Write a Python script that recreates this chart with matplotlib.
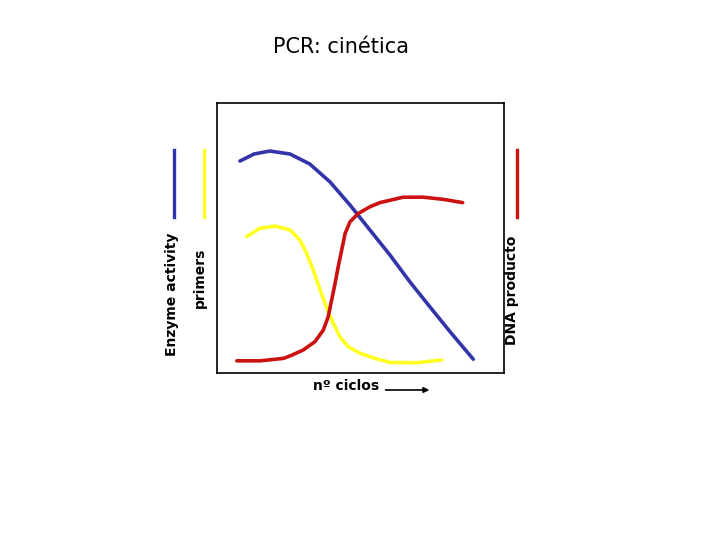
import numpy as np
import matplotlib
matplotlib.use('Agg')
import matplotlib.pyplot as plt

# curves (x: cycles 0-100, y: level 0-100)
enz_x = [8.1, 13.0, 18.5, 25.5, 32.4, 39.4, 46.4, 53.3, 60.3, 67.2, 74.2, 81.2, 89.3]
enz_y = [78.4, 81.0, 82.1, 81.0, 77.3, 70.7, 62.1, 52.9, 43.6, 33.7, 24.4, 15.2, 5.0]

prim_x = [10.4, 15.1, 20.3, 25.5, 29.0, 31.3, 33.6, 36.0, 38.3, 40.6, 42.9, 45.8,
          49.9, 55.1, 60.3, 69.6, 78.3]
prim_y = [50.4, 53.5, 54.3, 52.9, 49.1, 44.2, 38.0, 30.6, 23.9, 18.3, 13.3, 9.6,
          7.2, 5.3, 3.8, 3.7, 4.7]

dna_x = [7.0, 15.1, 23.2, 25.5, 30.1, 34.2, 37.1, 38.8, 40.0, 41.2, 42.3, 43.5,
         44.7, 46.4, 49.3, 53.4, 56.8, 64.9, 72.0, 78.9, 85.6]
dna_y = [4.4, 4.4, 5.3, 6.2, 8.4, 11.5, 15.8, 20.7, 26.9, 33.1, 39.3, 45.4,
         51.6, 55.9, 59.0, 61.5, 63.0, 65.0, 65.0, 64.2, 63.0]

BLUE = '#3333aa'
YELLOW = '#ffff22'
RED = '#cc1111'

fig = plt.figure(figsize=[7.2, 5.4], dpi=100)
ax = fig.add_axes([0.301, 0.3098, 0.399, 0.5])
ax.set_xlim(0, 100)
ax.set_ylim(0, 100)
ax.set_xticks([])
ax.set_yticks([])
for s in ax.spines.values():
    s.set_linewidth(1.2)

lw = 2.6
ax.plot(enz_x, enz_y, color=BLUE, lw=lw, solid_joinstyle='round', solid_capstyle='round')
ax.plot(prim_x, prim_y, color=YELLOW, lw=lw, solid_joinstyle='round', solid_capstyle='round')
ax.plot(dna_x, dna_y, color=RED, lw=lw, solid_joinstyle='round', solid_capstyle='round')

# colour keys outside the box
tr = ax.transAxes
for xk, c in [(-0.1486, BLUE), (-0.044, YELLOW), (1.044, RED)]:
    ax.plot([xk, xk], [0.578, 0.825], color=c, lw=2.4, transform=tr, clip_on=False)

fs = 10
ax.text(-0.155, 0.517, 'Enzyme activity', rotation=90, ha='center', va='top',
        fontsize=fs, fontweight='bold', transform=tr)
ax.text(-0.058, 0.465, 'primers', rotation=90, ha='center', va='top',
        fontsize=fs, fontweight='bold', transform=tr)
ax.text(1.027, 0.506, 'DNA producto', rotation=90, ha='center', va='top',
        fontsize=fs, fontweight='bold', transform=tr)

ax.text(0.45, -0.05, 'nº ciclos', ha='center', va='center',
        fontsize=fs, fontweight='bold', transform=tr)
ax.annotate('', xy=(0.75, -0.064), xytext=(0.578, -0.064), xycoords=tr,
            arrowprops=dict(arrowstyle='-|>', color='black', lw=1.2, mutation_scale=8))

fig.text(0.474, 0.913, 'PCR: cinética', ha='center', va='center', fontsize=15)

fig.savefig('out.png', dpi=100)
